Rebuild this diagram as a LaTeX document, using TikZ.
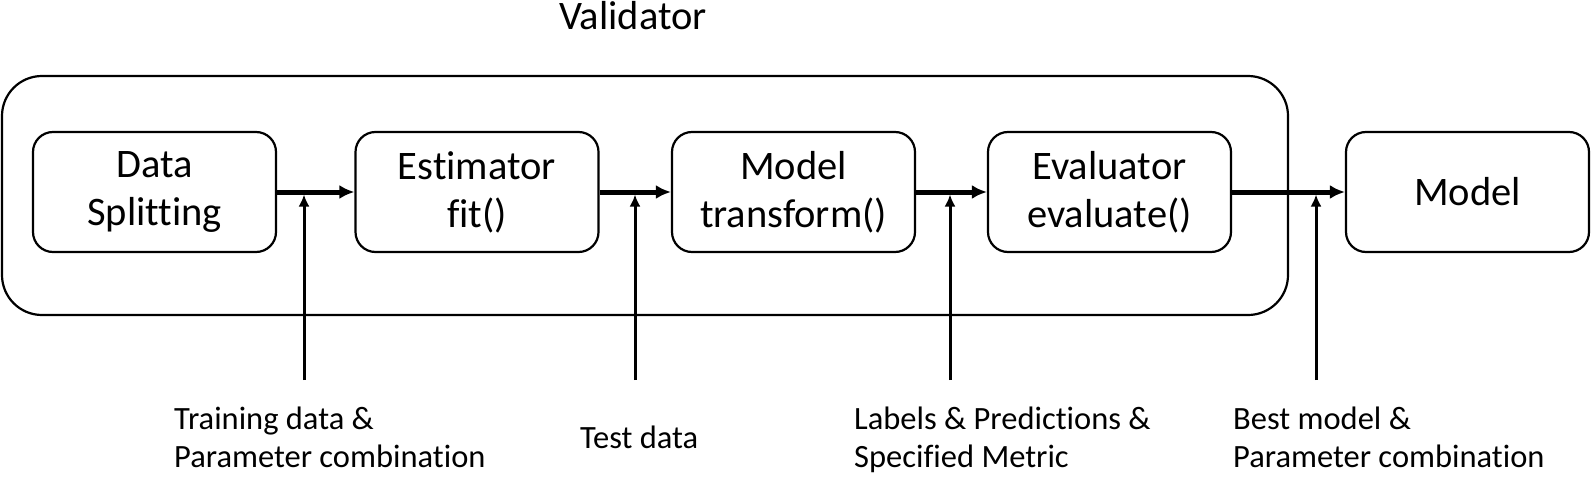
\documentclass[tikz,border=0pt]{standalone}
\usepackage{fontspec}
\setmainfont[Ligatures=NoCommon,RawFeature={-liga;-clig;-dlig}]{Carlito}
\usetikzlibrary{arrows.meta}
\newcommand{\boxfont}{\fontsize{40.5}{48}\selectfont}
\newcommand{\notefont}{\fontsize{32.5}{37.5}\selectfont}
\begin{document}
\begin{tikzpicture}[x=1pt,y=-1pt,
  stage/.style={draw,line width=2.2pt,rounded corners=20pt,minimum width=243pt,minimum height=120pt,align=center,font=\boxfont,inner sep=0pt},
  flow/.style={line width=5pt,-{Latex[length=15pt,width=14pt]}},
  feed/.style={line width=3pt,-{Latex[length=12pt,width=11pt]},shorten >=2.5pt},
  note/.style={anchor=base west,align=left,font=\notefont,inner sep=0pt}]
\useasboundingbox (0,0) rectangle (1594,481);
\node[draw,line width=2.2pt,rounded corners=40pt,minimum width=1286pt,minimum height=239pt] (valid) at (645,195.5) {};
\node[font=\boxfont,anchor=base,inner sep=0pt] (title) at (633,30) {Validator};
\node[stage] (split) at (154.5,192) {Data\\Splitting};
\node[stage] (est) at (477,192) {Estimator\\fit()};
\node[stage] (trans) at (793.5,192) {Model\\transform()};
\node[stage] (eval) at (1109.5,192) {Evaluator\\evaluate()};
\node[stage] (model) at (1467.5,192) {Model};
\draw[flow] (split) -- (est);
\draw[flow] (est) -- (trans);
\draw[flow] (trans) -- (eval);
\draw[flow] (eval) -- (model);
% inputs from below
\coordinate (in1) at (304,380);
\coordinate (in2) at (635,380);
\coordinate (in3) at (950,380);
\coordinate (in4) at (1316,380);
\draw[feed] (in1) -- (in1 |- split.east);
\draw[feed] (in2) -- (in2 |- est.east);
\draw[feed] (in3) -- (in3 |- trans.east);
\draw[feed] (in4) -- (in4 |- eval.east);
% base anchor sits on the last line
\node[note] (train) at (174,467) {Training data \&\\Parameter combination};
\node[note] (test) at (580,448) {Test data};
\node[note] (metric) at (854,467) {Labels \& Predictions \&\\Specified Metric};
\node[note] (best) at (1233,467) {Best model \&\\Parameter combination};
\end{tikzpicture}
\end{document}
